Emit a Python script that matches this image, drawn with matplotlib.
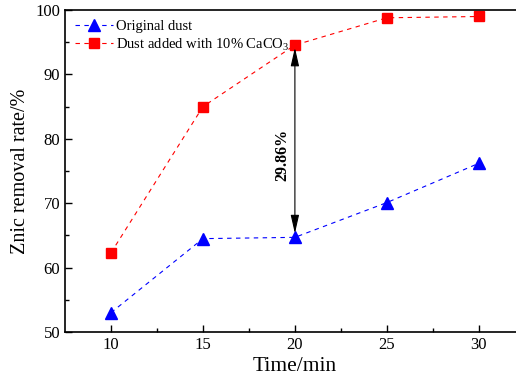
import matplotlib
matplotlib.use("Agg")
import matplotlib.pyplot as plt

plt.rcParams['font.family'] = ['Liberation Serif', 'DejaVu Serif']
plt.rcParams['mathtext.fontset'] = 'custom'
plt.rcParams['mathtext.rm'] = 'Liberation Serif'

time_min = [10, 15, 20, 25, 30]
original_dust = [53.0, 64.5, 64.7, 70.1, 76.2]
caco3_dust = [62.3, 85.0, 94.56, 98.8, 99.0]
y_ticks = [50, 60, 70, 80, 90, 100]
x_ticks = [10, 15, 20, 25, 30]

fig = plt.figure(figsize=(5.16, 3.81), dpi=100)
ax = fig.add_axes([0.126, 0.1286, 0.891, 0.845])

ax.plot(time_min, original_dust, color='blue', linestyle=(0, (4, 4)), linewidth=0.8,
        marker='^', markersize=9, label='Original dust')
ax.plot(time_min, caco3_dust, color='red', linestyle=(0, (4, 4)), linewidth=0.8,
        marker='s', markersize=7, label='Dust added with 10% CaCO$_3$')

# arrow showing the gap at 20 min
ax.annotate('', xy=(20, caco3_dust[2] - 0.4), xytext=(20, original_dust[2] + 0.6),
            arrowprops=dict(arrowstyle='<|-|>,head_length=0.75,head_width=0.17',
                            color='black', lw=0.8,
                            mutation_scale=15, shrinkA=0, shrinkB=0))
ax.text(19.3, 77.5, '29.86%', rotation=90, fontsize=11.5, fontweight='bold',
        ha='center', va='center')

ax.set_xlim(7.5, 32.5)
ax.set_ylim(50, 100)
ax.set_xticks(x_ticks)
ax.set_yticks(y_ticks)
ax.set_xticks([12.5, 17.5, 22.5, 27.5], minor=True)
ax.set_yticks([55, 65, 75, 85, 95], minor=True)
ax.tick_params(direction='in', which='both', labelsize=12, width=1)
ax.tick_params(which='major', length=5)
ax.tick_params(which='minor', length=3)
for s in ax.spines.values():
    s.set_linewidth(1.2)

ax.set_xlabel('Time/min', fontsize=15.5, labelpad=3)
ax.set_ylabel('Znic removal rate/%', fontsize=14.5, labelpad=4)
ax.legend(loc='upper left', frameon=False, fontsize=10.5, handlelength=2.6,
          borderaxespad=0.3, labelspacing=0.2, handletextpad=0.2)

fig.savefig('out.png', dpi=100)
